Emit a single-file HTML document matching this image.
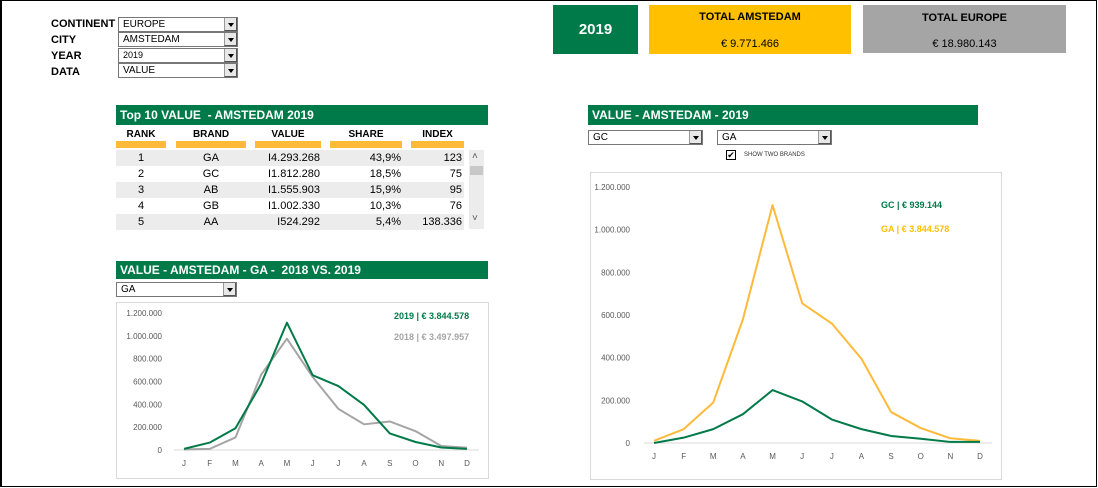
<!DOCTYPE html>
<html><head><meta charset="utf-8"><style>
*{box-sizing:border-box;margin:0;padding:0}
body{width:1098px;height:488px;background:#fff;font-family:"Liberation Sans",Arial,sans-serif;position:relative;overflow:hidden}
.a{position:absolute}
.frame{left:0;top:0;width:1097px;height:487px;border:1px solid #000;border-left:2px solid #000}
.lbl{font-weight:bold;font-size:11px;color:#000}
.dd{border:1px solid #777;background:#fff;font-size:10px;padding-left:4px;line-height:13px;height:15px}
.dd .btn{position:absolute;right:0;top:0;width:13px;height:13px;background:#e8e8e8;border-left:1px solid #999;border-bottom:1px solid #555;border-right:1px solid #555}
.dd .btn:after{content:"";position:absolute;left:3px;top:5px;border-left:3px solid transparent;border-right:3px solid transparent;border-top:4px solid #000}
.gh{background:#007a48;color:#fff;font-weight:bold;font-size:12px;padding-left:4px;line-height:20px}
.th{font-weight:bold;font-size:10px;text-align:center}
.yb{background:#ffba3a;height:7px}
.row{left:116px;width:348px;height:16px;font-size:11px}
.row.g{background:#ececec}
.row span{position:absolute;top:2px}
.box{border:1px solid #d9d9d9}
svg text{font-family:"Liberation Sans",Arial,sans-serif}
</style></head><body>
<div class="a frame"></div>

<div class="a lbl" style="left:51px;top:18px">CONTINENT</div>
<div class="a lbl" style="left:51px;top:34px">CITY</div>
<div class="a lbl" style="left:51px;top:50px">YEAR</div>
<div class="a lbl" style="left:51px;top:66px">DATA</div>
<div class="a dd" style="left:118px;top:17px;width:120px">EUROPE<div class="btn"></div></div>
<div class="a dd" style="left:118px;top:32px;width:120px">AMSTEDAM<div class="btn"></div></div>
<div class="a dd" style="left:118px;top:48px;width:120px;font-size:9px">2019<div class="btn"></div></div>
<div class="a dd" style="left:118px;top:63px;width:120px">VALUE<div class="btn"></div></div>

<div class="a" style="left:553px;top:5px;width:85px;height:49px;background:#007a48;color:#fff;font-weight:bold;font-size:15px;text-align:center;line-height:49px">2019</div>
<div class="a" style="left:649px;top:5px;width:202px;height:49px;background:#ffc000;text-align:center;font-size:11px"><div style="font-weight:bold;margin-top:6px">TOTAL AMSTEDAM</div><div style="margin-top:15px">€ 9.771.466</div></div>
<div class="a" style="left:863px;top:5px;width:203px;height:48px;background:#a5a5a5;text-align:center;font-size:11px"><div style="font-weight:bold;margin-top:7px">TOTAL EUROPE</div><div style="margin-top:14px">€ 18.980.143</div></div>

<div class="a gh" style="left:116px;top:105px;width:372px">Top 10 VALUE&nbsp; - AMSTEDAM 2019</div>
<div class="a th" style="left:116px;top:129px;width:50px">RANK</div>
<div class="a th" style="left:176px;top:129px;width:70px">BRAND</div>
<div class="a th" style="left:255px;top:129px;width:66px">VALUE</div>
<div class="a th" style="left:330px;top:129px;width:72px">SHARE</div>
<div class="a th" style="left:411px;top:129px;width:53px">INDEX</div>
<div class="a yb" style="left:116px;top:141px;width:50px"></div>
<div class="a yb" style="left:176px;top:141px;width:70px"></div>
<div class="a yb" style="left:255px;top:141px;width:66px"></div>
<div class="a yb" style="left:330px;top:141px;width:72px"></div>
<div class="a yb" style="left:411px;top:141px;width:53px"></div>
<div id="rows"></div>
<div class="a" style="left:469px;top:150px;width:15px;height:79px;background:#ececec"><div style="position:absolute;left:1px;top:16px;width:13px;height:9px;background:#c8c8c8"></div><div style="position:absolute;left:3px;top:1px;font-size:10px;color:#555">˄</div><div style="position:absolute;left:3px;top:63px;font-size:10px;color:#555">˅</div></div>

<div class="a gh" style="left:116px;top:261px;width:372px;line-height:18px">VALUE - AMSTEDAM - GA -&nbsp; 2018 VS. 2019</div>
<div class="a dd" style="left:116px;top:282px;width:121px">GA<div class="btn"></div></div>
<div class="a box" style="left:116px;top:302px;width:373px;height:177px"></div>
<svg class="a" id="c1" style="left:0;top:0" width="1098" height="488"></svg>

<div class="a gh" style="left:588px;top:105px;width:390px">VALUE - AMSTEDAM - 2019</div>
<div class="a dd" style="left:588px;top:130px;width:115px">GC<div class="btn"></div></div>
<div class="a dd" style="left:717px;top:130px;width:115px">GA<div class="btn"></div></div>
<div class="a" style="left:726px;top:150px;width:10px;height:10px;border:1px solid #000;font-size:9px;line-height:8px;text-align:center">✔</div>
<div class="a" style="left:744px;top:152px;font-size:6px;color:#333">SHOW TWO BRANDS</div>
<div class="a box" style="left:590px;top:172px;width:412px;height:308px"></div>

<script>
const rankData=["1","2","3","4","5"];
const brandData=["GA","GC","AB","GB","AA"];
const valueData=["I4.293.268","I1.812.280","I1.555.903","I1.002.330","I524.292"];
const shareData=["43,9%","18,5%","15,9%","10,3%","5,4%"];
const indexData=["123","75","95","76","138.336"];
const rows=document.getElementById('rows');
rankData.forEach((r,i)=>{
  const d=document.createElement('div');
  d.className='a row'+(i%2===0?' g':'');
  d.style.top=(150+i*16)+'px';
  
  
  d.innerHTML=`<span style="left:0;width:50px;text-align:center">${r}</span><span style="left:60px;width:70px;text-align:center">${brandData[i]}</span><span style="right:144px">${valueData[i]}</span><span style="right:63px">${shareData[i]}</span><span style="right:2px">${indexData[i]}</span>`;
  rows.appendChild(d);
});

const months=["J","F","M","A","M","J","J","A","S","O","N","D"];
const yTicks=[0,200000,400000,600000,800000,1000000,1200000];
const tickLabels=["0","200.000","400.000","600.000","800.000","1.000.000","1.200.000"];
const ga2019=[10000,65000,190000,580000,1115000,655000,560000,395000,145000,70000,22000,10000];
const ga2018=[5000,10000,110000,660000,975000,640000,360000,225000,250000,165000,35000,20000];
const gc2019=[0,25000,65000,135000,248000,195000,110000,65000,33000,20000,5000,5000];

const svg=document.getElementById('c1');
const NS='http://www.w3.org/2000/svg';
function el(t,a,txt){const e=document.createElementNS(NS,t);for(const k in a)e.setAttribute(k,a[k]);if(txt!==undefined)e.textContent=txt;svg.appendChild(e);return e;}
function chart(o){
  const xs=i=>o.x0+(o.x1-o.x0)*i/11;
  const ys=v=>o.y0-(o.y0-o.y1)*v/1200000;
  const ax=el('line',{x1:o.x0-10,x2:o.x1+12,y1:o.y0,y2:o.y0,stroke:'#d9d9d9'});
  
  yTicks.forEach((t,i)=>{const e=el('text',{x:o.lx,y:ys(t)+3,'text-anchor':'end','font-size':8,fill:'#595959'},tickLabels[i]);
    });
  months.forEach((m,i)=>{const e=el('text',{x:xs(i),y:o.my,'text-anchor':'middle','font-size':8,fill:'#595959'},m);
    });
  o.series.forEach(s=>{const p=el('polyline',{points:s.d.map((v,i)=>xs(i)+','+ys(v)).join(' '),fill:'none',stroke:s.c,'stroke-width':2,'stroke-linejoin':'round'});
    });
}
chart({x0:184,x1:467,y0:450,y1:313,lx:162,my:466,series:[
  {d:ga2018,c:'#a5a5a5',n:'line-2018'},{d:ga2019,c:'#007a48',n:'line-2019'}]});
chart({x0:654,x1:980,y0:443,y1:187,lx:630,my:459,series:[
  {d:ga2019,c:'#ffba3a',n:'line-ga'},{d:gc2019,c:'#007a48',n:'line-gc'}]});
[[394,319,'#007a48','2019  | € 3.844.578','legend-2019'],[394,340,'#a5a5a5','2018  | € 3.497.957','legend-2018'],
 [881,208,'#007a48','GC  | € 939.144','legend-gc'],[881,232,'#ffc000','GA  | € 3.844.578','legend-ga']].forEach(l=>{
  const e=el('text',{x:l[0],y:l[1],'font-size':9,'font-weight':'bold',fill:l[2],'xml:space':'preserve'},l[3]);
  });
</script>
</body></html>
